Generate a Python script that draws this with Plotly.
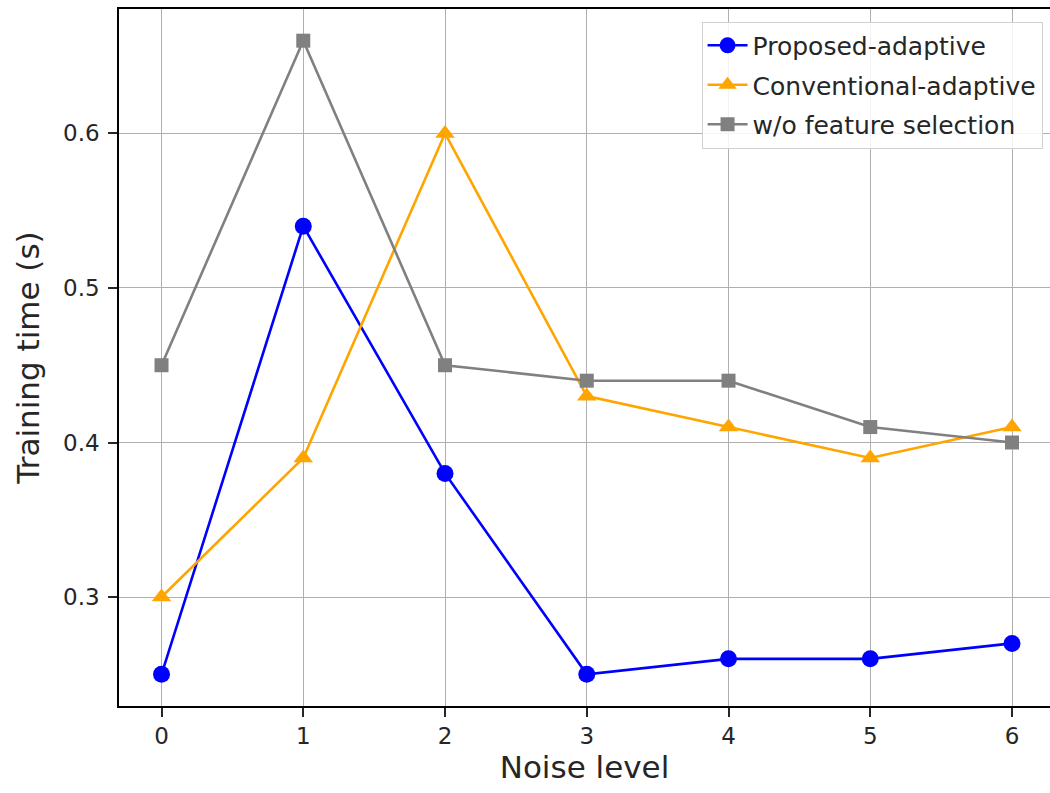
import plotly.graph_objects as go

noise_levels = [0, 1, 2, 3, 4, 5, 6]
proposed_adaptive = [0.25, 0.54, 0.38, 0.25, 0.26, 0.26, 0.27]
conventional_adaptive = [0.30, 0.39, 0.60, 0.43, 0.41, 0.39, 0.41]
without_selection = [0.45, 0.66, 0.45, 0.44, 0.44, 0.41, 0.40]

series = [
    ("Proposed-adaptive", proposed_adaptive, "#0000ff", "circle", 17),
    ("Conventional-adaptive", conventional_adaptive, "#ffa500", "triangle-up", 17),
    ("w/o feature selection", without_selection, "#808080", "square", 14),
]

fig = go.Figure()
for name, values, color, symbol, size in series:
    fig.add_trace(go.Scatter(
        x=noise_levels, y=values, name=name, mode="lines+markers",
        legendgroup=name,
        line=dict(color=color, width=2.6),
        marker=dict(color=color, symbol=symbol, size=size),
    ))

font = "DejaVu Sans, Liberation Sans, sans-serif"
fig.update_layout(
    width=1050, height=793,
    margin=dict(l=119, r=0, t=9, b=87),
    paper_bgcolor="white", plot_bgcolor="white",
    font=dict(family=font, color="#262626"),
    showlegend=True,
    legend=dict(
        x=0.992, y=0.982, xanchor="right", yanchor="top",
        bgcolor="rgba(255,255,255,0.85)", bordercolor="#d0d0d0", borderwidth=1,
        font=dict(size=25, family=font, color="#262626"),
        itemwidth=40, tracegroupgap=4,
    ),
)
fig.update_xaxes(
    range=[-0.3, 6.268], tickvals=noise_levels,
    title=dict(text="Noise level", font=dict(size=31), standoff=8),
    tickfont=dict(size=23), ticks="outside", ticklen=9, tickwidth=1.5,
    tickcolor="#262626",
    showline=True, linecolor="black", linewidth=1.6, mirror=True,
    showgrid=True, gridcolor="#b0b0b0", gridwidth=1.2, zeroline=False,
)
fig.update_yaxes(
    range=[0.2295, 0.6805], tickvals=[0.3, 0.4, 0.5, 0.6],
    ticktext=["0.3", "0.4", "0.5", "0.6"],
    title=dict(text="Training time (s)", font=dict(size=31), standoff=14),
    tickfont=dict(size=23), ticks="outside", ticklen=9, tickwidth=1.5,
    tickcolor="#262626", ticklabelstandoff=4,
    showline=True, linecolor="black", linewidth=1.6, mirror=False,
    showgrid=True, gridcolor="#b0b0b0", gridwidth=1.2, zeroline=False,
)

fig.write_html("out.html")
